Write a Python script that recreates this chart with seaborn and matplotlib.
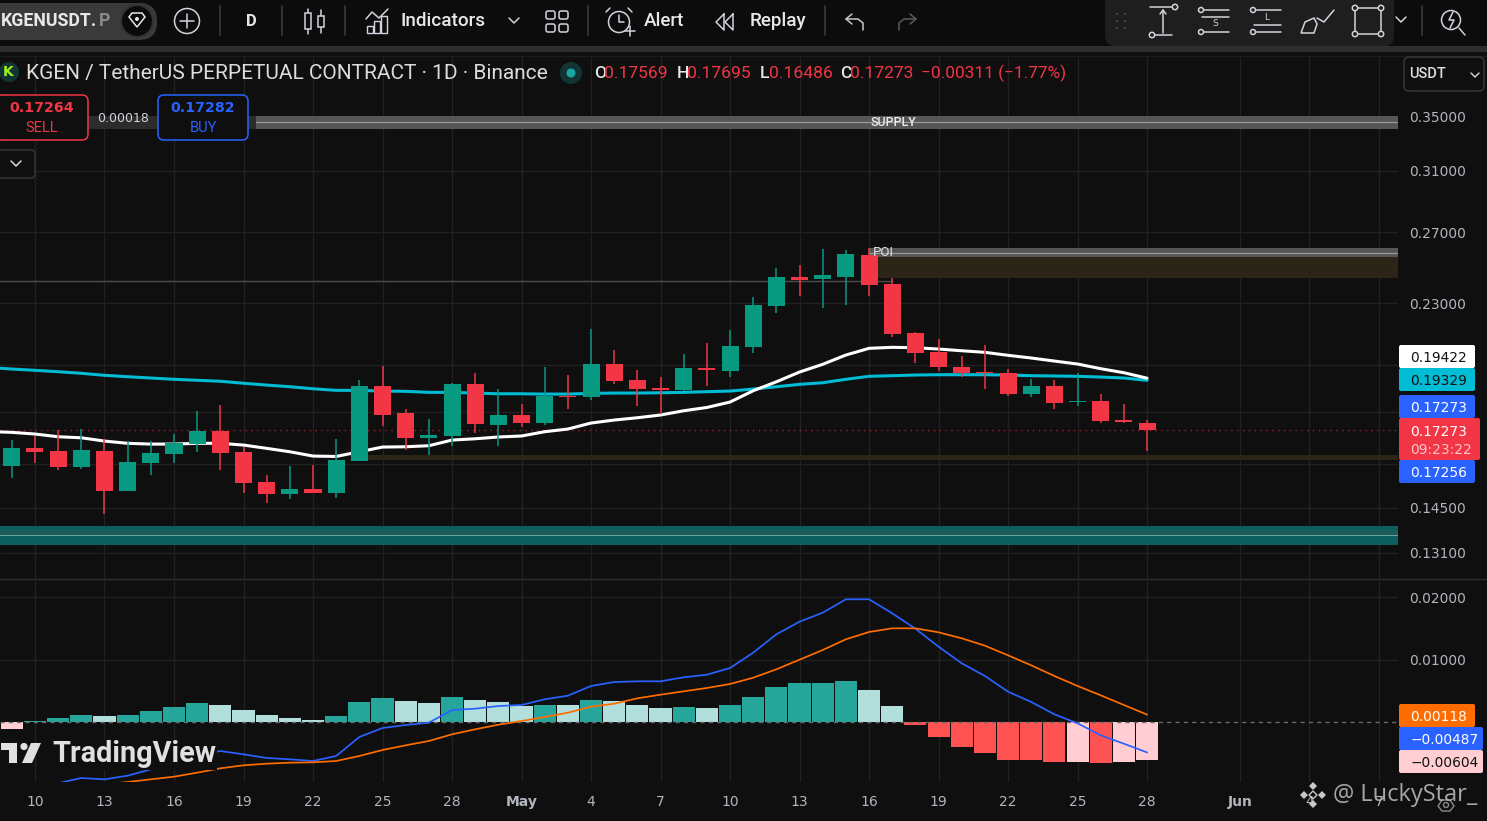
import numpy as np
import pandas as pd
import matplotlib
matplotlib.use("Agg")
import matplotlib.pyplot as plt
from matplotlib.patches import FancyBboxPatch, Rectangle, Circle, Polygon
from matplotlib.ticker import NullLocator
import seaborn as sns

# ------------------------------------------------------------------ data
candle_days = list(range(-1, 49))          # 0 = 10 April, 48 = 28 May
opens = [.15931,.16592,.16479,.15895,.16479,.15058,.16040,.16369,.16741,.17240,
         .16442,.15367,.14957,.15126,.14990,.16112,.19082,.17955,.16971,.17049,
         .19168,.17476,.17875,.17554,.18655,.18612,.20053,.19341,.18995,.18910,
         .19873,.19739,.20836,.22853,.24398,.24290,.24398,.25642,.24017,.21504,
         .20602,.19918,.19694,.19650,.18741,.19082,.18405,.18446,.17673,.17569]
highs = [.16893,.17049,.17279,.17318,.16932,.16855,.16855,.17125,.18035,.18280,
         .16629,.15612,.15931,.15968,.16932,.19341,.19963,.18117,.17713,.19211,
         .19650,.18953,.18322,.19918,.19561,.21699,.20695,.19783,.19473,.20510,
         .21024,.21650,.23322,.24900,.25068,.25990,.25932,.26049,.24345,.21553,
         .21215,.20418,.20929,.19828,.19385,.19341,.19650,.18741,.18322,.17695]
lows = [.15506,.16040,.15788,.15824,.14297,.15058,.15612,.16040,.16442,.15788,
        .14990,.14655,.14789,.14990,.14822,.16112,.17437,.16517,.16332,.16666,
        .17163,.16666,.17396,.17476,.18117,.18488,.19168,.18240,.17915,.18867,
        .19082,.19473,.20556,.22496,.23374,.22751,.22905,.23374,.21310,.20098,
        .19739,.19473,.18953,.18655,.18612,.18117,.18240,.17554,.17554,.16486]
closes = [.16592,.16442,.15895,.16517,.15058,.16076,.16406,.16779,.17240,.16406,
          .15332,.14957,.15126,.14990,.16148,.19082,.17875,.16971,.17087,.19168,
          .17515,.17875,.17554,.18655,.18612,.20053,.19298,.18953,.18910,.19873,
          .19783,.20882,.22905,.24398,.24235,.24509,.25699,.23964,.21456,.20556,
          .19918,.19650,.19650,.18741,.19082,.18363,.18446,.17633,.17594,.17273]

ma_days = list(range(-2, 49))
white_ma = [.1722,.1719,.17125,.1702,.1698,.16855,.1677,.16741,.16741,.1677,.1677,
            .16704,.1658,.16454,.16295,.1628,.16454,.16629,.1664,.1668,.16893,
            .16943,.1701,.17049,.17215,.17318,.17554,.17673,.17765,.17875,.18047,
            .18182,.18405,.1888,.19265,.19694,.2004,.20464,.20775,.20822,.20803,
            .20742,.20662,.20588,.2045,.20326,.20188,.20053,.19842,.19663,.19422]
cyan_ma = [.19900,.19828,.1977,.19708,.19637,.19549,.19487,.1943,.19374,.19331,.19288,
           .19202,.19123,.19052,.18965,.18897,.18897,.18867,.18855,.18812,.18812,
           .18782,.18752,.18752,.18739,.18739,.18769,.18782,.18782,.18795,.18812,
           .1884,.18867,.18953,.19052,.19155,.19224,.19374,.19505,.19532,.19561,
           .19575,.19575,.19575,.19561,.19532,.19519,.19505,.19473,.1943,.19329]

macd_days = list(range(-1, 49))
macd_hist = [-.00117,.0001,.0006,.0012,.0009,.0012,.0017,.00235,.0030,.00267,
             .00187,.00107,.00059,.00027,.0009,.00315,.0038,.0033,.0030,.00395,
             .00347,.00315,.0025,.00267,.00267,.00347,.0033,.00267,.0022,.00235,
             .0022,.00267,.00395,.00555,.0062,.0062,.0065,.0052,.0025,-.0004,
             -.00245,-.00405,-.0050,-.0060,-.00613,-.00645,-.00645,-.0066,-.00645,-.00604]
hist_kind = ["ll","du","du","du","lu","du","du","du","du","lu",
             "lu","lu","lu","lu","du","du","du","lu","lu","du",
             "lu","lu","lu","du","lu","du","lu","lu","lu","du",
             "lu","du","du","du","du","du","du","lu","lu","dl",
             "dl","dl","dl","dl","dl","dl","ll","dl","ll","ll"]
macd_line = [-.0113,-.0108,-.0098,-.00896,-.00917,-.00859,-.00757,-.00651,-.00533,-.00464,
             -.00517,-.00576,-.00597,-.00624,-.00544,-.0024,-.00096,-.00048,-.00011,.00192,
             .00213,.00256,.00272,.00363,.00421,.00576,.0064,.00651,.00651,.00715,
             .00757,.00864,.01109,.01403,.01605,.01749,.01963,.01963,.01739,.01493,
             .01205,.00939,.00736,.00485,.0032,.00123,-.00021,-.00213,-.00347,-.00487]
signal_line = [-.0124,-.0118,-.0112,-.0105,-.00997,-.0096,-.00917,-.00875,-.00811,-.00741,
               -.00693,-.00667,-.00651,-.00645,-.00624,-.00544,-.00448,-.00373,-.00304,-.00197,
               -.00117,-.00043,.00016,.0008,.00149,.00245,.00293,.00379,.00437,.00491,
               .00544,.00608,.00709,.00843,.00997,.01152,.01323,.0144,.01499,.01499,
               .01435,.01339,.01221,.01067,.00907,.00736,.00576,.00427,.00272,.00118]

price_ticks = [.35,.31,.27,.23,.20,.18,.16,.145,.131]
price_labels = ["0.35000","0.31000","0.27000","0.23000","","","","0.14500","0.13100"]
macd_ticks = [.02,.01]
macd_labels = ["0.02000","0.01000"]
date_ticks = [0,3,6,9,12,15,18,21,24,27,30,33,36,39,42,45,48,52,55,58]
date_labels = ["10","13","16","19","22","25","28","May","4","7","10","13","16","19",
               "22","25","28","Jun","4","7"]

supply_zone = (.34066,.35079,.34584)
poi_zone = (.2555,.26049,.2578)
poi_base = (.2436,.2555)
low_zone = (.16148,.16332)
demand_zone = (.13333,.13918,.13793,.1364)
level_line = .2417
last_price = .17273

# ------------------------------------------------------------------ styles
BG = "#0f0f0f"; GRID = "#212121"; TXT = "#b2b5be"; UP = "#089981"; DOWN = "#f23645"
BLUE = "#2962ff"; ORANGE = "#ff6d00"; CYAN = "#00bcd4"
sns.set_theme(style="dark", rc={"figure.facecolor": BG, "axes.facecolor": BG,
                                "savefig.facecolor": BG, "axes.edgecolor": BG,
                                "axes.grid": True, "grid.color": GRID, "grid.linewidth": 1.0,
                                "axes.axisbelow": True})
plt.rcParams["font.family"] = ["DejaVu Sans"]

W, H = 1487, 821
fig = plt.figure(figsize=(W/100, H/100), dpi=100)
def px_axes(x0, y0, x1, y1, **kw):
    return fig.add_axes([x0/W, 1-y1/H, (x1-x0)/W, (y1-y0)/H], **kw)

ax = px_axes(0, 55, 1398, 578)
mx = px_axes(0, 580, 1398, 782)
XL = (-1.51, 58.83)

# ------------------------------------------------------------------ price panel
ax.set_yscale("log")
ax.axhspan(supply_zone[0], supply_zone[1], color="#565656", lw=0, zorder=1)
ax.axhline(supply_zone[2], color="#9a9a9a", lw=0.9, zorder=1.2)
ax.fill_between([36, XL[1]], poi_zone[0], poi_zone[1], color="#565656", lw=0, zorder=1)
ax.plot([36, XL[1]], [poi_zone[2]]*2, color="#9a9a9a", lw=0.9, zorder=1.2)
ax.fill_between([36, XL[1]], poi_base[0], poi_base[1], color="#2b2518", lw=0, zorder=1)
ax.fill_between([14, XL[1]], low_zone[0], low_zone[1], color="#2b2518", lw=0, zorder=1)
ax.axhspan(demand_zone[0], demand_zone[1], color="#0d5e5e", lw=0, zorder=1)
ax.axhspan(demand_zone[3], demand_zone[2], color="#1d5c59", lw=0, zorder=1.1)
ax.axhline(demand_zone[3], color="#6fa8a0", lw=0.7, zorder=1.2)
ax.plot([XL[0], 37], [level_line]*2, color="#4d4d4d", lw=1, zorder=1.2)
ax.axhline(last_price, color=DOWN, lw=1, ls=(0, (1, 3.2)), alpha=.6, zorder=1.3)

sns.lineplot(x=ma_days, y=cyan_ma, ax=ax, color=CYAN, lw=2.2, estimator=None, sort=False, zorder=2)
sns.lineplot(x=ma_days, y=white_ma, ax=ax, color="white", lw=2.2, estimator=None, sort=False, zorder=2.1)

o, h, l, c = map(np.array, (opens, highs, lows, closes))
colors = [UP if ci >= oi else DOWN for oi, ci in zip(o, c)]
ax.vlines(candle_days, l, h, colors=colors, lw=1.1, zorder=3)
ax.bar(candle_days, np.abs(c-o), bottom=np.minimum(o, c), width=.735, color=colors, lw=0, zorder=3.1)

ax.set_xlim(*XL)
ax.set_yticks(price_ticks, price_labels)
ax.yaxis.set_minor_locator(NullLocator())
ax.set_ylim(.12378, .4025)
ax.yaxis.tick_right()
ax.tick_params(axis="y", length=0, pad=8.0, labelsize=9.9, labelcolor=TXT)
ax.set_xticks(date_ticks)
ax.tick_params(axis="x", length=0, labelbottom=False)
ax.grid(True, color=GRID, lw=1)
ax.set_xlabel(""); ax.set_ylabel("")
for s in ax.spines.values():
    s.set_visible(False)

# ------------------------------------------------------------------ MACD panel
hist = pd.DataFrame({"day": macd_days, "hist": macd_hist, "kind": hist_kind})
sns.barplot(data=hist, x="day", y="hist", hue="kind", ax=mx, native_scale=True, dodge=False,
            palette={"du": "#26a69a", "lu": "#b2dfdb", "dl": "#ff5252", "ll": "#ffcdd2"},
            saturation=1, width=.955, legend=False, linewidth=0, zorder=2)
mx.axhline(0, color="#6a6a6a", lw=1, ls=(0, (3, 3)), zorder=3)
sns.lineplot(x=macd_days, y=macd_line, ax=mx, color=BLUE, lw=1.25, estimator=None, sort=False, zorder=4)
sns.lineplot(x=macd_days, y=signal_line, ax=mx, color=ORANGE, lw=1.25, estimator=None, sort=False, zorder=4)
mx.set_xlim(*XL)
mx.set_ylim(-.0096, .02272)
mx.set_yticks(macd_ticks, macd_labels)
mx.yaxis.tick_right()
mx.tick_params(axis="y", length=0, pad=8.0, labelsize=9.9, labelcolor=TXT)
mx.set_xticks(date_ticks, date_labels)
mx.tick_params(axis="x", length=0, pad=9.3, labelsize=10, labelcolor=TXT)
for t in mx.get_xticklabels():
    if t.get_text() in ("May", "Jun"):
        t.set_fontweight("bold")
mx.grid(True, color=GRID, lw=1)
mx.set_xlabel(""); mx.set_ylabel("")
for s in mx.spines.values():
    s.set_visible(False)

# ------------------------------------------------------------------ interface overlay (pixel coordinates)
ui = fig.add_axes([0, 0, 1, 1], zorder=10)
ui.set_xlim(0, W); ui.set_ylim(H, 0); ui.axis("off"); ui.patch.set_visible(False)

def rr(x0, y0, x1, y1, r=3, fc="none", ec="none", lw=1, z=1):
    ui.add_patch(FancyBboxPatch((x0, y0), x1-x0, y1-y0, boxstyle=f"round,pad=0,rounding_size={r}",
                                fc=fc, ec=ec, lw=lw, zorder=z))
def ln(xs, ys, col="#d1d4dc", lw=1.1, z=5):
    ui.plot(xs, ys, color=col, lw=lw, zorder=z, solid_capstyle="round")
def tx(x, y, s, col="#d1d4dc", size=10, ha="left", fam="DejaVu Sans", weight="normal", z=6, **kw):
    return ui.text(x, y+1, s, color=col, fontsize=size, ha=ha, va="center", family=fam, weight=weight, zorder=z, **kw)
def ci(x, y, r, fc="none", ec="#d1d4dc", lw=1.1, z=5):
    ui.add_patch(Circle((x, y), r, fc=fc, ec=ec, lw=lw, zorder=z))

# top band
ui.add_patch(Rectangle((0, 0), W, 46, fc="#0c0c0c", ec="none", zorder=0))
ui.add_patch(Rectangle((0, 46), W, 6, fc="#2e2e2e", ec="none", zorder=0))
ln([0, W], [56, 56], "#1c1c1c", 1, 0.5)
ln([0, W], [579.3, 579.3], "#2e2e2e", 1, 0.5)

# symbol pill
rr(-20, 3, 157, 40, 18, fc="#3a3a3a", z=1)
ci(137, 21, 16, fc="#0b0b0b", ec="#333333", lw=1.5, z=2)
ui.add_patch(Polygon([(129, 17), (132, 13), (142, 13), (145, 17), (137, 27)], closed=True, fc="none", ec="#e8e8e8", lw=1.1, zorder=3))
ci(137, 19, 2, fc="#e8e8e8", ec="none", z=3)
tx(1, 20.5, "KGENUSDT.", "#e8e8e8", 12.8, fam="Roboto", weight="bold")
tx(99, 20.5, "P", "#8a8a8a", 12.8, fam="Roboto", weight="bold")

ci(187, 21, 12.5, lw=1.1)
ln([180, 194], [21, 21]); ln([187, 187], [14, 28])
for sx in (220, 282, 345, 588, 825):
    ln([sx, sx], [6, 35], "#3c3c3c", 1.2)
tx(251, 20.5, "D", "#e6e6e6", 12, ha="center", fam="Roboto", weight="bold")
# candles icon
for cx, y0, y1, b0, b1 in ((308, 9, 34, 13, 29), (321, 10, 33, 16, 27)):
    ln([cx, cx], [y0, y1]); ui.add_patch(Rectangle((cx-3, b0), 6, b1-b0, fc="#0c0c0c", ec="#d1d4dc", lw=1.1, zorder=6))
# indicators icon
ln([366, 372, 379, 388], [19, 12, 18, 9])
for bx, bt in ((367, 26), (374, 21), (381, 16)):
    ui.add_patch(Rectangle((bx, bt), 6, 33-bt, fc="none", ec="#d1d4dc", lw=1, zorder=5))
tx(401, 20.5, "Indicators", "#e8e8e8", 13.6, fam="Roboto", weight="medium")
ln([509, 514, 519], [18, 23, 18])
for gx in (546, 559):
    for gy in (11, 24):
        rr(gx, gy, gx+9, gy+8, 2, ec="#d1d4dc", lw=1.1, z=5)
# alert
ci(619, 22, 10.5)
ln([619, 619, 624], [15, 22, 22])
ln([606, 610], [12, 8]); ln([632, 628], [12, 8])
ln([625, 635], [31, 31]); ln([630, 630], [26, 36])
tx(644, 20.5, "Alert", "#e8e8e8", 13.6, fam="Roboto", weight="medium")
# replay
for rx in (716, 725):
    ln([rx+8, rx, rx+8, rx+8], [14, 22, 30, 14])
tx(750, 20.5, "Replay", "#e8e8e8", 13.6, fam="Roboto", weight="medium")
# undo / redo
ln([852, 846, 852], [14, 19, 24], "#c8c8c8"); ln([846, 858, 863, 863], [19, 19, 23, 30], "#c8c8c8")
ln([910, 916, 910], [14, 19, 24], "#5a5a5a"); ln([916, 904, 899, 899], [19, 19, 23, 30], "#5a5a5a")

# drawing tools panel
rr(1105, -10, 1394, 46, 10, fc="#1e1e1e", z=1)
for dx in (1117, 1125):
    for dy in (14, 21, 28):
        ci(dx, dy, 1.1, fc="#4a4a4a", ec="none")
ln([1150, 1172], [7, 7]); ci(1175, 7, 2.7, fc="#1e1e1e")
ln([1150, 1172], [35, 35]); ci(1152, 35, 2.7, fc="#1e1e1e")
ln([1163, 1163], [10, 33]); ln([1160, 1163, 1166], [14, 10, 14])
for ox, lab in ((1199, "S"), (1251, "L")):
    ln([ox+3, ox+30], [10, 10]); ci(ox+2, 10, 2.5, fc="#1e1e1e")
    ln([ox+3, ox+30], [32, 32]); ci(ox+2, 32, 2.5, fc="#1e1e1e")
    ln([ox+3, ox+30], [25 if lab == "L" else 17]*2)
    tx(ox+16, 23 if lab == "S" else 16, lab, "#d1d4dc", 6.5, ha="center")
ui.add_patch(Polygon([(1301, 33), (1305, 22), (1314, 18), (1317, 24), (1314, 33)], closed=True, fc="none", ec="#d1d4dc", lw=1.1, zorder=5))
ln([1317, 1324, 1334], [18, 22, 10])
ui.add_patch(Rectangle((1355, 8), 26, 26, fc="none", ec="#d1d4dc", lw=1.1, zorder=5))
for qx in (1355, 1381):
    for qy in (8, 34):
        ci(qx, qy, 2.7, fc="#1e1e1e")
ln([1396, 1401, 1406], [17, 22, 17])
ln([1422, 1422], [6, 35], "#3c3c3c", 1.2)
ci(1451, 20, 9.5); ln([1459, 1465], [28, 35])
ln([1453, 1449, 1454, 1450], [12, 20, 20, 28])

# legend row
ci(9, 72, 10, fc="#123434", ec="none")
tx(8, 71.5, "K", "#9cf01c", 10, ha="center", weight="bold")
tx(26, 72.5, "KGEN / TetherUS PERPETUAL CONTRACT · 1D · Binance", "#dcdcdc", 15.0, fam="Roboto")
ci(571, 73, 11, fc="#123434", ec="none"); ci(571, 73, 4.5, fc="#1aa7a3", ec="none")
for letter, val, lx in (("O", "0.17569", 594), ("H", "0.17695", 677), ("L", "0.16486", 760), ("C", "0.17273", 840)):
    tx(lx, 72.5, letter, "#e6e6e6", 12.6, fam="Roboto", weight="medium")
    tx(lx+10 if letter != "L" else lx+9, 72.5, val, DOWN, 12.6, fam="Roboto")
tx(921, 72.5, "−0.00311 (−1.77%)", DOWN, 12.4, fam="Roboto")
rr(1404, 57, 1484, 91, 5, fc=BG, ec="#3a3a3a", lw=1, z=2)
tx(1409, 73, "USDT", "#dcdcdc", 10.5, fam="Roboto", weight="medium")
ln([1471, 1475, 1479], [73, 77, 73], "#dcdcdc", 1)

# buy / sell overlay
ui.add_patch(Rectangle((88, 116), 168, 12.7, fc="#2c2c2c", ec="none", zorder=1))
tx(123, 117, "0.00018", "#d1d4dc", 9, ha="center", z=3)
rr(-4, 95, 88, 140, 6, fc=BG, ec=DOWN, lw=1.1, z=2)
tx(42, 107.5, "0.17264", DOWN, 10.2, ha="center", weight="bold", z=3)
tx(42, 126.5, "SELL", DOWN, 10.5, ha="center", fam="Roboto", z=3)
rr(158, 95, 248, 140, 6, fc=BG, ec=BLUE, lw=1.1, z=2)
tx(203, 107.5, "0.17282", BLUE, 10.2, ha="center", weight="bold", z=3)
tx(203, 126.5, "BUY", BLUE, 10.5, ha="center", fam="Roboto", z=3)
rr(-6, 150, 35, 178, 4, fc=BG, ec="#3a3a3a", lw=1, z=2)
ln([11, 16, 21], [161, 166, 161], "#dcdcdc", 1.1)

# zone captions
tx(893, 122, "SUPPLY", "#ececec", 9, ha="center", fam="Roboto", weight="medium")
tx(883, 252, "POI", "#e0e0e0", 9.5, ha="center", fam="Roboto")

# price tags
TAG = 9.9
def tag(x1, y0, y1, fc, txt, col):
    rr(1399, y0, x1, y1, 2, fc=fc, z=2)
    tx(1410, (y0+y1)/2+.3, txt, col, TAG, z=3)
tag(1475, 345, 368, "#ffffff", "0.19422", "#111111")
tag(1475, 368, 391, CYAN, "0.19329", "#111111")
tag(1475, 395, 418, BLUE, "0.17273", "#ffffff")
tag(1475, 460, 483, BLUE, "0.17256", "#ffffff")
rr(1399, 418, 1480, 460, 2, fc=DOWN, z=2.5)
tx(1410, 430.5, "0.17273", "#ffffff", TAG, z=3)
tx(1410, 448.5, "09:23:22", "#fbc4c9", TAG, z=3)
tag(1475, 704, 727, ORANGE, "0.00118", "#ffffff")
tag(1483, 727, 750, BLUE, "−0.00487", "#ffffff")
tag(1483, 750, 773, "#ffcdd2", "−0.00604", "#111111")

# TradingView mark
ui.add_patch(Polygon([(1, 743), (17, 743), (17, 763), (9, 763), (9, 750), (1, 750)], closed=True, fc="#e0e0e0", ec="none", zorder=6))
ci(24, 746.5, 3.6, fc="#e0e0e0", ec="none", z=6)
ui.add_patch(Polygon([(31, 743), (41, 743), (32, 763), (22, 763)], closed=True, fc="#e0e0e0", ec="none", zorder=6))
tx(52, 753.5, "TradingView", "#e0e0e0", 20.8, fam="Roboto", weight="bold", z=6,
   bbox=dict(fc=BG, ec="none", pad=1))

# author mark
for dx, dy in ((0, -9), (-9, 0), (9, 0), (0, 9)):
    ui.add_patch(Polygon([(1313+dx, 795+dy-4), (1313+dx+4, 795+dy), (1313+dx, 795+dy+4), (1313+dx-4, 795+dy)],
                         closed=True, fc="#c8c8c8", ec="none", zorder=7))
ui.add_patch(Polygon([(1313, 791), (1317, 795), (1313, 799), (1309, 795)], closed=True, fc="none", ec="#c8c8c8", lw=1, zorder=7))
tx(1333, 794, "@ LuckyStar_", "#b8b8b8", 17, fam="Open Sans", z=7, alpha=.9)
ui.add_patch(Polygon([(1438, 806), (1442, 800), (1450, 800), (1454, 806), (1450, 811), (1442, 811)], closed=True,
                     fc="none", ec="#8a8a8a", lw=1, zorder=6))
ci(1446, 805, 2.5, ec="#8a8a8a", lw=1, z=6)

fig.savefig("out.png", dpi=100, facecolor=BG)
